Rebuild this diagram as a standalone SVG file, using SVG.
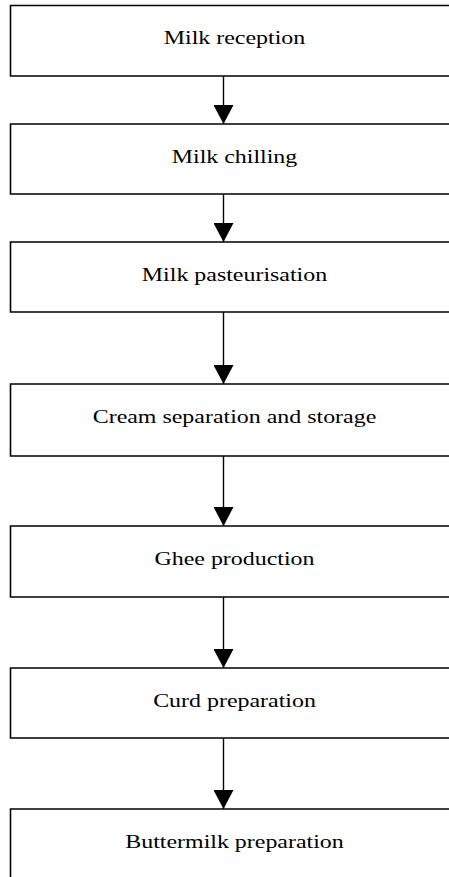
<svg xmlns="http://www.w3.org/2000/svg" width="449" height="877" viewBox="0 0 449 877">
<style>
.box{fill:none;stroke:#000;stroke-width:1.6}
.lbl{font-family:"Liberation Serif","Times New Roman",serif;font-size:18px;fill:#000;text-anchor:middle}
.con{stroke:#000;stroke-width:1.4;fill:none;marker-end:url(#ah)}
</style>
<defs>
<marker id="ah" viewBox="0 0 19 20" refX="19" refY="10" markerWidth="19" markerHeight="20" markerUnits="userSpaceOnUse" orient="auto">
<path d="M0,0 L19,10 L0,20 z" fill="#000"/>
</marker>
</defs>
<rect width="449" height="877" fill="#fff"/>
<g id="connectors">
<line class="con" x1="223.5" y1="76" x2="223.5" y2="124"/>
<line class="con" x1="223.5" y1="194" x2="223.5" y2="242"/>
<line class="con" x1="223.5" y1="312" x2="223.5" y2="384"/>
<line class="con" x1="223.5" y1="456" x2="223.5" y2="526"/>
<line class="con" x1="223.5" y1="597" x2="223.5" y2="668"/>
<line class="con" x1="223.5" y1="738" x2="223.5" y2="809"/>
</g>
<g id="n1">
<path class="box" d="M449,5.5 H10.5 V76 H449"/>
<text class="lbl" transform="translate(234.5,44) scale(1.33,1)">Milk reception</text>
</g>
<g id="n2">
<path class="box" d="M449,124 H10.5 V194 H449"/>
<text class="lbl" transform="translate(234.5,163) scale(1.33,1)">Milk chilling</text>
</g>
<g id="n3">
<path class="box" d="M449,242 H10.5 V312 H449"/>
<text class="lbl" transform="translate(234.5,281) scale(1.33,1)">Milk pasteurisation</text>
</g>
<g id="n4">
<path class="box" d="M449,384 H10.5 V456 H449"/>
<text class="lbl" transform="translate(234.5,423) scale(1.33,1)">Cream separation and storage</text>
</g>
<g id="n5">
<path class="box" d="M449,526 H10.5 V597 H449"/>
<text class="lbl" transform="translate(234.5,565) scale(1.33,1)">Ghee production</text>
</g>
<g id="n6">
<path class="box" d="M449,668 H10.5 V738 H449"/>
<text class="lbl" transform="translate(234.5,707) scale(1.33,1)">Curd preparation</text>
</g>
<g id="n7">
<path class="box" d="M449,809 H10.5 V877"/>
<text class="lbl" transform="translate(234.5,848) scale(1.33,1)">Buttermilk preparation</text>
</g>
</svg>
